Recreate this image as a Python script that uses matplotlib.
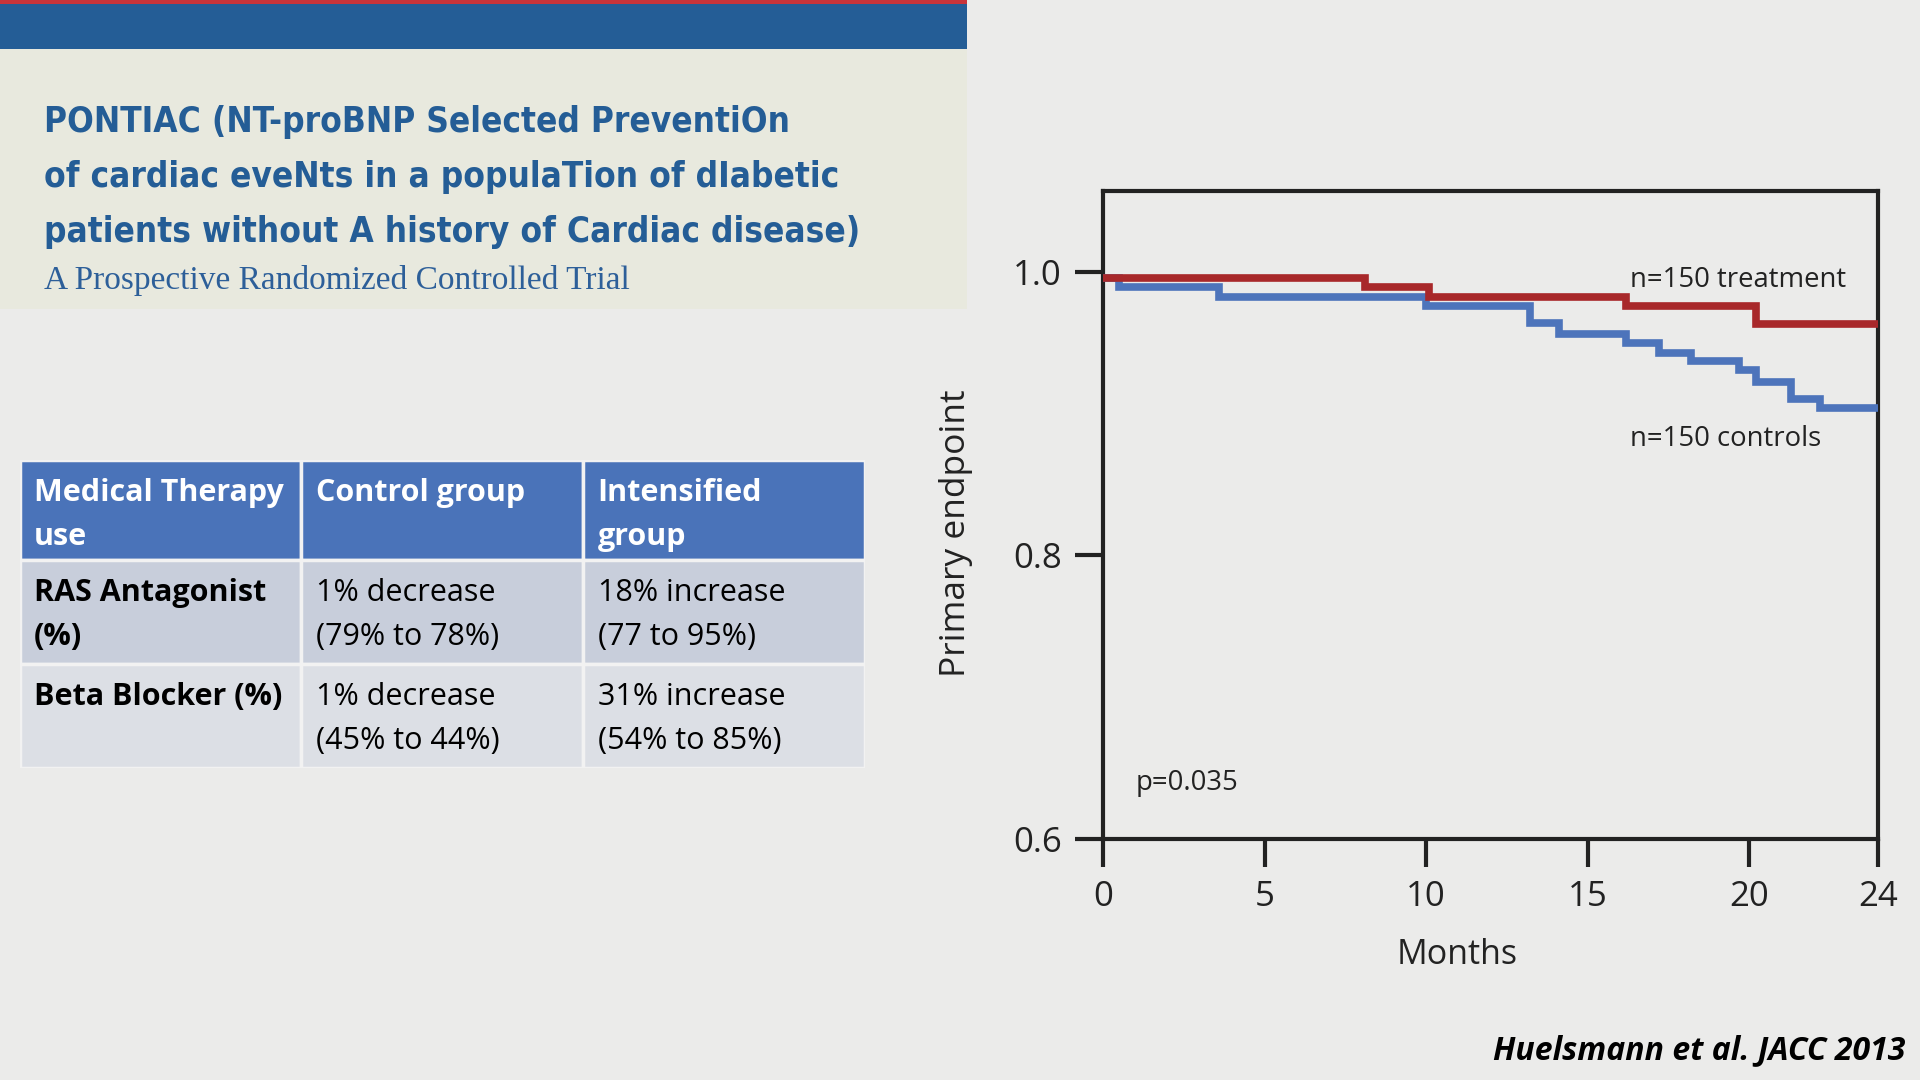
# PONTIAC slide: title panel, therapy table and Kaplan-Meier style step chart
import numpy as np
from matplotlib import pyplot as plt
from matplotlib.patches import Rectangle

# --- data -------------------------------------------------------------
title_lines = ["PONTIAC (NT-proBNP Selected PreventiOn",
               "of cardiac eveNts in a populaTion of dIabetic",
               "patients without A history of Cardiac disease)"]
subtitle = "A Prospective Randomized Controlled Trial"

table_header = ["Medical Therapy\nuse", "Control group", "Intensified\ngroup"]
table_rows = [["RAS Antagonist\n(%)", "1% decrease\n(79% to 78%)", "18% increase\n(77 to 95%)"],
              ["Beta Blocker (%)", "1% decrease\n(45% to 44%)", "31% increase\n(54% to 85%)"]]

treat_months = [0, 8.1, 10.1, 16.2, 20.2, 24]
treat_surv = [0.996, 0.989, 0.982, 0.976, 0.963, 0.963]

ctrl_months = [0, 0.5, 3.6, 10.0, 13.2, 14.1, 16.2, 17.2, 18.2, 19.7, 20.2, 21.3, 22.2, 24]
ctrl_surv = [0.996, 0.989, 0.982, 0.976, 0.964, 0.956, 0.950, 0.943, 0.937, 0.931,
             0.922, 0.910, 0.904, 0.904]

x_ticks = [0, 5, 10, 15, 20, 24]
y_ticks = [0.6, 0.8, 1.0]

# --- colours ----------------------------------------------------------
bg = "#ebebea"
cream = "#e8e9de"
band_blue = "#245d96"
title_blue = "#245d96"
red = "#a8282a"
blue = "#4d74bb"
head_col = "#4a73b9"
row_cols = ["#c8cedb", "#dcdfe5"]

fig = plt.figure(figsize=(19.2, 10.8), dpi=100, facecolor=bg)

# --- title panel ------------------------------------------------------
fig.patches.append(Rectangle((0, 0.7143), 0.5038, 0.2403, transform=fig.transFigure,
                             facecolor=cream, edgecolor="none", zorder=0))
fig.patches.append(Rectangle((0, 0.9546), 0.5038, 0.0420, transform=fig.transFigure,
                             facecolor=band_blue, edgecolor="none", zorder=1))
fig.patches.append(Rectangle((0, 0.9966), 0.5038, 0.0034, transform=fig.transFigure,
                             facecolor="#c8343a", edgecolor="none", zorder=1))

title_y = [1 - 108 / 882, 1 - 153 / 882, 1 - 198 / 882]
for line, yy in zip(title_lines, title_y):
    fig.text(0.023, yy, line, fontsize=25.2, fontweight="bold", color=title_blue,
             family="DejaVu Sans", fontstretch="condensed", va="baseline")
fig.text(0.023, 1 - 236 / 882, subtitle, fontsize=24, color="#2d5f99",
         family="Liberation Serif", va="baseline")

# --- table ------------------------------------------------------------
tax = fig.add_axes([0.0102, 0.2891, 0.4401, 0.2846])
tax.set_xlim(0, 3)
tax.set_ylim(0, 3)
tax.invert_yaxis()
tax.axis("off")
col_edges = [0, 1.0, 2.0, 3.0]
row_edges = [0, 0.975, 1.99, 3.0]
all_rows = [table_header] + table_rows
for r, cells in enumerate(all_rows):
    fc = head_col if r == 0 else row_cols[r - 1]
    for c, txt in enumerate(cells):
        x0, x1 = col_edges[c], col_edges[c + 1]
        y0, y1 = row_edges[r], row_edges[r + 1]
        tax.add_patch(Rectangle((x0, y0), x1 - x0, y1 - y0, facecolor=fc,
                                edgecolor="#f2f2f2", linewidth=2.5))
        bold = (r == 0) or (c == 0)
        tax.text(x0 + 0.052, y0 + 0.17, txt, fontsize=22, family="Open Sans",
                 fontweight="bold" if bold else "normal",
                 color="white" if r == 0 else "black",
                 va="top", ha="left", linespacing=1.6)

# --- survival chart ---------------------------------------------------
ax = fig.add_axes([0.5746, 0.2234, 0.4037, 0.5997])
ax.set_facecolor(bg)
ax.step(ctrl_months, ctrl_surv, where="post", color=blue, linewidth=5.5,
        solid_joinstyle="miter", zorder=3)
ax.step(treat_months, treat_surv, where="post", color=red, linewidth=5.5,
        solid_joinstyle="miter", zorder=4)

ax.set_xlim(0, 24)
ax.set_ylim(0.6, 1.057)
ax.set_xticks(x_ticks)
ax.set_yticks(y_ticks)
ax.set_yticklabels(["%.1f" % v for v in y_ticks])
for s in ax.spines.values():
    s.set_linewidth(3)
    s.set_color("#222222")
ax.tick_params(direction="out", length=20, width=3, color="#222222",
               labelsize=25)
ax.tick_params(axis="x", pad=10)
ax.tick_params(axis="y", pad=10)
for lab in ax.get_xticklabels() + ax.get_yticklabels():
    lab.set_family("Open Sans")
    lab.set_color("#222222")

ax.set_xlabel("Months", fontsize=24.5, family="Open Sans", color="#222222")
ax.set_ylabel("Primary endpoint", fontsize=25.5, family="Open Sans", color="#222222")
ax.xaxis.set_label_coords(0.457, -0.153)
ax.yaxis.set_label_coords(-0.168, 0.472)

ax.text(16.3, 0.989, "n=150 treatment", fontsize=19.8, family="Open Sans",
        color="#222222", va="baseline")
ax.text(16.3, 0.877, "n=150 controls", fontsize=19.8, family="Open Sans",
        color="#222222", va="baseline")
ax.text(1.0, 0.639, "p=0.035", fontsize=19.8, family="Open Sans",
        color="#222222", va="center")

fig.text(0.9923, 1 - 858 / 882, "Huelsmann et al. JACC 2013", fontsize=23,
         family="Open Sans", fontweight="bold", style="italic", color="black",
         ha="right", va="center")

fig.savefig("out.png", dpi=100, facecolor=bg)
